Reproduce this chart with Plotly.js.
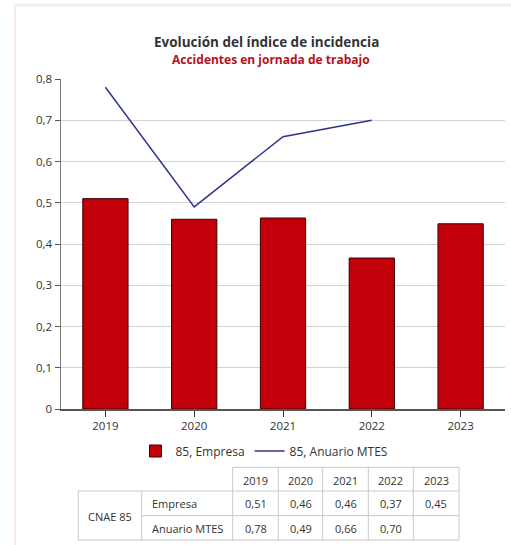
<!DOCTYPE html>
<html>
<head>
<meta charset="utf-8">
<script src="https://cdn.plot.ly/plotly-3.0.1.min.js"></script>
<style>html,body{margin:0;padding:0;background:#fff;}#chart{width:511px;height:545px;}</style>
</head>
<body>
<div id="chart"></div>
<script>
// ---- data ----
const years = ['2019', '2020', '2021', '2022', '2023'];
const empresa = [0.51, 0.46, 0.463, 0.366, 0.449];
const anuario = [0.78, 0.49, 0.66, 0.70, null];
const seriesNames = ['85, Empresa', '85, Anuario MTES'];
const rowLabels = ['Empresa', 'Anuario MTES'];
const groupLabel = 'CNAE 85';
const titleText = 'Evolución del índice de incidencia';
const subtitleText = 'Accidentes en jornada de trabajo';

// ---- layout helpers (pixel -> paper) ----
const L = 61, R = 505, T = 79, B = 409, W = 511, H = 545;
const px = x => (x - L) / (R - L);
const py = y => (B - y) / (B - T);
const fmt = v => (v === null || v === undefined) ? '' : v.toFixed(2).replace('.', ',');

const FONT = 'Open Sans, Noto Sans, sans-serif';
const TXT = '#333333';
const GRID = '#d4d4d4';

const traces = [
  {
    type: 'bar', x: years, y: empresa, name: seriesNames[0],
    marker: { color: '#c1000a', line: { color: '#3a0000', width: 1 } },
    width: 0.51, hoverinfo: 'skip'
  },
  {
    type: 'scatter', mode: 'lines', x: years, y: anuario, name: seriesNames[1],
    line: { color: '#2e3591', width: 1.5 }, connectgaps: false, hoverinfo: 'skip'
  }
];

// table geometry (pixels)
const colX = [232.7, 278.3, 322.7, 368.3, 413.3, 459];
const tblLeft = 78.3, labelDiv = 141.7;
const rowY = [467.3, 491, 515.7, 540];
const lineStyle = { color: '#c8c8c8', width: 1 };

const shapes = [];
const ann = [];
function hline(x0, x1, y) { shapes.push({ type: 'line', xref: 'paper', yref: 'paper', x0: px(x0), x1: px(x1), y0: py(y), y1: py(y), line: lineStyle }); }
function vline(x, y0, y1) { shapes.push({ type: 'line', xref: 'paper', yref: 'paper', x0: px(x), x1: px(x), y0: py(y0), y1: py(y1), line: lineStyle }); }

hline(colX[0], colX[5], rowY[0]);
hline(tblLeft, colX[5], rowY[1]);
hline(labelDiv, colX[5], rowY[2]);
hline(tblLeft, colX[5], rowY[3]);
colX.forEach(x => vline(x, rowY[0], rowY[3]));
vline(tblLeft, rowY[1], rowY[3]);
vline(labelDiv, rowY[1], rowY[3]);

function text(t, x, y, anchor, opts) {
  ann.push(Object.assign({
    text: t, xref: 'paper', yref: 'paper', x: px(x), y: py(y),
    xanchor: anchor || 'center', yanchor: 'middle', showarrow: false,
    font: { family: FONT, size: 11, color: TXT }
  }, opts || {}));
}

years.forEach((yr, i) => {
  const cx = (colX[i] + colX[i + 1]) / 2;
  text(yr, cx, 480);
  text(fmt(empresa[i]), cx, 503.5);
  text(fmt(anuario[i]), cx, 528);
});
text(groupLabel, (tblLeft + labelDiv) / 2, 516);
text(rowLabels[0], 150, 503.5, 'left');
text(rowLabels[1], 150, 528, 'left');

// titles
text(titleText, 266, 41.5, 'center', { font: { family: FONT, size: 13.5, color: '#333333', weight: 'bold' } });
text(subtitleText, 271, 60, 'center', { font: { family: FONT, size: 12, color: '#b3121b', weight: 'bold' } });

// decorative frame
shapes.push({ type: 'line', xref: 'paper', yref: 'paper', x0: px(15), x1: px(15), y0: py(5), y1: py(545), line: { color: '#f7e6ea', width: 2 } });
shapes.push({ type: 'line', xref: 'paper', yref: 'paper', x0: px(15), x1: px(511), y0: py(5), y1: py(5), line: { color: '#f8f1ea', width: 3 } });

const layout = {
  width: W, height: H,
  margin: { l: L, r: W - R, t: T, b: H - B },
  paper_bgcolor: '#ffffff', plot_bgcolor: '#ffffff',
  separators: ',.',
  font: { family: FONT, size: 11, color: TXT },
  showlegend: true,
  legend: {
    orientation: 'h', x: px(264), xanchor: 'center', y: py(451), yanchor: 'middle',
    font: { family: FONT, size: 12, color: TXT }, itemwidth: 30, tracegroupgap: 0
  },
  bargap: 0.49,
  xaxis: {
    type: 'category', showgrid: false, zeroline: false,
    showline: true, linecolor: '#555555', linewidth: 1.5,
    ticks: 'outside', ticklen: 6, tickcolor: '#333333', tickwidth: 1,
    tickfont: { family: FONT, size: 11.5, color: TXT }, fixedrange: true
  },
  yaxis: {
    range: [0, 0.8], dtick: 0.1, tick0: 0,
    showgrid: true, gridcolor: GRID, gridwidth: 1, zeroline: false,
    showline: true, linecolor: '#7a7a7a', linewidth: 1.5,
    ticks: 'outside', ticklen: 5, tickcolor: '#555555',
    tickfont: { family: FONT, size: 11.5, color: TXT }, fixedrange: true
  },
  shapes: shapes,
  annotations: ann
};

Plotly.newPlot('chart', traces, layout, { displayModeBar: false, staticPlot: true });
</script>
</body>
</html>
